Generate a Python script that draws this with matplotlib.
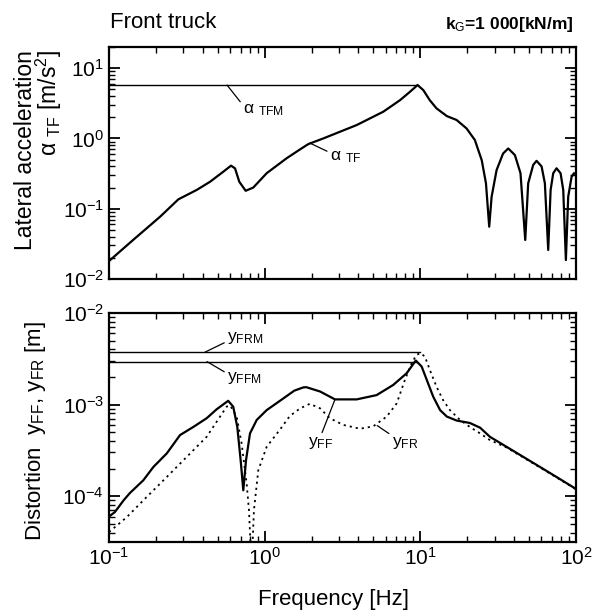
import matplotlib
matplotlib.use("Agg")
import matplotlib.pyplot as plt
import numpy as np

plt.rcParams['font.family'] = ['Liberation Sans', 'DejaVu Sans']
plt.rcParams['mathtext.fontset'] = 'custom'
plt.rcParams['mathtext.rm'] = 'Liberation Sans'
plt.rcParams['mathtext.it'] = 'Liberation Sans:italic'
plt.rcParams['mathtext.bf'] = 'Liberation Sans:bold'

# ---- Top panel: lateral acceleration of front truck ----
f_atf = [0.1, 0.143, 0.213, 0.279, 0.366, 0.446, 0.542, 0.608, 0.645, 0.687, 0.755, 0.845,
         1.03, 1.38, 1.69, 1.905, 2.38, 3.9, 5.78, 7.4, 8.57, 9.6, 10.45, 11.5, 12.7, 14.8,
         17.1, 19.8, 22.4, 24.8, 26.4, 27.7, 28.7, 30.9, 34, 36.7, 40.5, 44, 47.2, 49.3,
         53.1, 55.8, 60.1, 63.1, 66.3, 68.7, 71.4, 75, 79.6, 82.8, 86.1, 89.1, 93.7, 97, 100]
a_tf = [0.018, 0.036, 0.077, 0.136, 0.185, 0.242, 0.336, 0.41, 0.375, 0.242, 0.18, 0.2,
        0.32, 0.52, 0.70, 0.83, 1.0, 1.55, 2.4, 3.5, 4.6, 5.75, 4.87, 3.5, 2.68, 2.08,
        1.83, 1.39, 0.95, 0.49, 0.23, 0.0555, 0.148, 0.355, 0.61, 0.72, 0.58, 0.32, 0.0359, 0.23,
        0.42, 0.48, 0.40, 0.23, 0.0259, 0.185, 0.32, 0.376, 0.32, 0.185, 0.0186, 0.148, 0.285, 0.32, 0.31]
f_atfm = [0.1, 9.6]
a_tfm = [5.75, 5.75]

# ---- Bottom panel: distortion ----
f_yff = [0.1, 0.109, 0.124, 0.136, 0.166, 0.193, 0.235, 0.286, 0.348, 0.424, 0.492, 0.583,
         0.628, 0.667, 0.701, 0.729, 0.759, 0.805, 0.889, 1.03, 1.32, 1.55, 1.77, 1.85, 2.27,
         2.83, 3.9, 5.24, 6.7, 8.17, 9.35, 10.2, 11, 12.1, 13.4, 14.8, 17.1, 20.8, 24.2,
         28, 35.8, 45.8, 58.6, 75, 100]
y_ff = [6.0e-5, 6.7e-5, 9.0e-5, 1.08e-4, 1.49e-4, 2.09e-4, 2.93e-4, 4.65e-4, 5.7e-4, 7.1e-4,
        8.9e-4, 1.1e-3, 9.5e-4, 5.7e-4, 2.47e-4, 1.16e-4, 2.47e-4, 4.85e-4, 6.8e-4, 8.7e-4,
        1.17e-3, 1.42e-3, 1.54e-3, 1.55e-3, 1.39e-3, 1.14e-3, 1.14e-3, 1.27e-3, 1.64e-3, 2.2e-3,
        3.03e-3, 2.6e-3, 1.86e-3, 1.22e-3, 8.7e-4, 7.4e-4, 6.7e-4, 6.3e-4, 5.6e-4, 4.45e-4,
        3.46e-4, 2.69e-4, 2.09e-4, 1.62e-4, 1.2e-4]
f_yfr = [0.1, 0.13, 0.166, 0.235, 0.316, 0.424, 0.57, 0.6, 0.661, 0.711, 0.766, 0.793, 0.815,
         0.838, 0.853, 0.91, 1.03, 1.25, 1.45, 1.69, 1.95, 2.27, 2.62, 3.2, 4.1, 4.99, 6.08,
         7.05, 7.96, 8.79, 9.46, 10, 10.7, 11.5, 12.7, 14, 15.5, 18, 20.8, 24.2, 28, 35.8,
         45.8, 58.6, 75, 100]
y_fr = [4.06e-5, 5.9e-5, 9.0e-5, 1.62e-4, 2.69e-4, 4.45e-4, 9.5e-4, 9.8e-4, 7.4e-4, 3.77e-4,
        1.37e-4, 7.0e-5, 2.5e-5, 3.3e-5, 7.0e-5, 1.92e-4, 3.46e-4, 5.3e-4, 7.5e-4, 9.1e-4,
        1.02e-3, 9.1e-4, 7.1e-4, 6.0e-4, 5.45e-4, 5.8e-4, 7.4e-4, 1.03e-3, 1.86e-3, 2.83e-3,
        3.49e-3, 3.65e-3, 3.35e-3, 2.4e-3, 1.57e-3, 1.12e-3, 8.7e-4, 6.8e-4, 5.7e-4, 4.85e-4,
        4.1e-4, 3.4e-4, 2.65e-4, 2.06e-4, 1.6e-4, 1.19e-4]
f_yfrm = [0.1, 10.0]
y_frm = [3.74e-3, 3.74e-3]
f_yffm = [0.1, 9.35]
y_ffm = [2.95e-3, 2.95e-3]

W, H = 596, 614
fig = plt.figure(figsize=(W / 100, H / 100), dpi=100)

def px_axes(l, t, r, b):
    return fig.add_axes([l / W, 1 - b / H, (r - l) / W, (b - t) / H])

ax1 = px_axes(109, 47, 576, 279)
ax2 = px_axes(109, 313, 576, 542)

for ax in (ax1, ax2):
    ax.set_xscale('log')
    ax.set_yscale('log')
    ax.set_xlim(0.1, 100)
    for s in ax.spines.values():
        s.set_linewidth(1.6)
    ax.tick_params(which='both', direction='in', top=True, right=True, labelsize=15)
    ax.tick_params(which='major', length=8, width=1.3)
    ax.tick_params(which='minor', length=4, width=1.0)

lw = 1.6
line_kw = dict(color='black', solid_joinstyle='round', solid_capstyle='round')
# top
ax1.plot(f_atf, a_tf, lw=lw, **line_kw)
ax1.plot(f_atfm, a_tfm, lw=1.0, color='black')
ax1.set_ylim(0.01, 20)
ax1.tick_params(labelbottom=False)
lead = dict(arrowstyle='-', lw=0.9, color='black', shrinkA=0, shrinkB=0)
ax1.annotate('α $_{\\rm TFM}$', xy=(0.573, 5.75), xytext=(0.726, 2.54), fontsize=12.5,
             va='center', ha='left', arrowprops=dict(lead, relpos=(0, 0.8)))
ax1.annotate('α $_{\\rm TF}$', xy=(1.95, 0.86), xytext=(2.62, 0.54), fontsize=12.5,
             va='center', ha='left', arrowprops=dict(lead, relpos=(0, 0.8)))

# bottom
ax2.plot(f_yff, y_ff, lw=lw, **line_kw)
ax2.plot(f_yfr, y_fr, color='black', lw=1.3, linestyle=(0, (1.2, 2.2)))
ax2.plot(f_yfrm, y_frm, color='black', lw=1.0)
ax2.plot(f_yffm, y_ffm, color='black', lw=1.0)
ax2.set_ylim(10 ** -4.5, 1e-2)

ax2.annotate('y$_{\\rm FRM}$', xy=(0.414, 3.74e-3), xytext=(0.573, 5.3e-3), fontsize=12.5,
             va='center', ha='left', arrowprops=dict(lead, relpos=(0, 0.3)))
ax2.annotate('y$_{\\rm FFM}$', xy=(0.426, 2.95e-3), xytext=(0.573, 1.94e-3), fontsize=12.5,
             va='center', ha='left', arrowprops=dict(lead, relpos=(0, 0.8)))
ax2.annotate('y$_{\\rm FF}$', xy=(2.83, 1.14e-3), xytext=(2.3, 3.77e-4), fontsize=12.5,
             va='center', ha='center', arrowprops=dict(lead, relpos=(0.5, 1.0)))
ax2.annotate('y$_{\\rm FR}$', xy=(5.28, 5.9e-4), xytext=(7.96, 3.77e-4), fontsize=12.5,
             va='center', ha='center', arrowprops=dict(lead, relpos=(0.0, 1.0)))

# labels
fig.text(39 / W, 1 - 150 / H, 'Lateral acceleration\nα $_{\\rm TF}$ [m/s$^2$]', rotation=90,
         ha='center', va='center', multialignment='right', linespacing=0.82, fontsize=16.5)
fig.text(36 / W, 1 - 431 / H, 'Distortion  y$_{\\rm FF}$, y$_{\\rm FR}$ [m]', rotation=90,
         ha='center', va='center', fontsize=16)
fig.text(334 / W, 1 - 599 / H, 'Frequency [Hz]', ha='center', va='center', fontsize=16)
fig.text(110 / W, 1 - 23 / H, 'Front truck', ha='left', va='center', fontsize=16)
fig.text(574 / W, 1 - 25 / H, 'k$_{\\rm G}$=1 000[kN/m]', ha='right', va='center',
         fontsize=12.5, fontweight='bold')

fig.savefig('out.png', dpi=100)
